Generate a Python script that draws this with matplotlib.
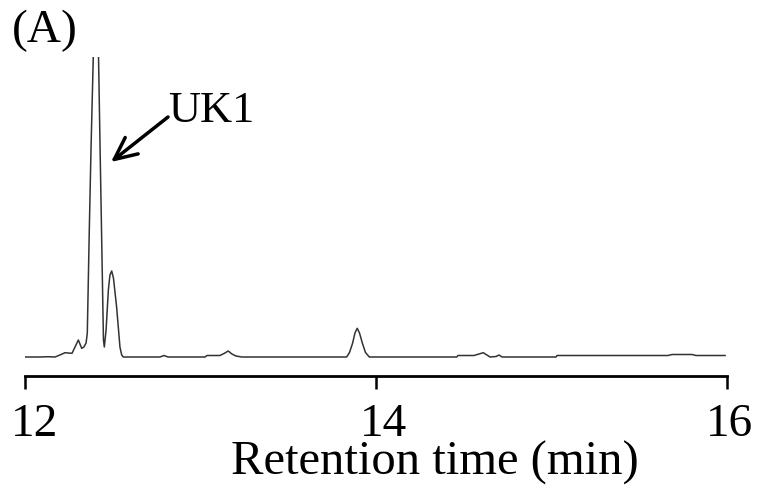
import matplotlib
matplotlib.use("Agg")
import matplotlib.pyplot as plt
from matplotlib.transforms import ScaledTranslation

plt.rcParams['font.family'] = ['Liberation Serif', 'DejaVu Serif']

# Chromatogram trace (retention time in min, signal in arbitrary units)
time_min = [12.000, 12.085, 12.131, 12.171, 12.199, 12.228, 12.245, 12.268, 12.285, 12.304,
            12.323, 12.336, 12.348, 12.355, 12.366, 12.376, 12.389, 12.403, 12.419, 12.427,
            12.439, 12.447, 12.452, 12.462, 12.475, 12.484, 12.494, 12.504, 12.522, 12.533,
            12.541, 12.551, 12.560, 12.769, 12.792, 12.815, 13.026, 13.037, 13.111, 13.134,
            13.158, 13.179, 13.202, 13.235, 13.833, 13.849, 13.867, 13.880, 13.893, 13.906,
            13.922, 13.940, 13.962, 14.460, 14.467, 14.558, 14.587, 14.611, 14.632, 14.650,
            14.684, 14.701, 14.718, 14.735, 15.026, 15.031, 15.664, 15.687, 15.801, 15.823,
            15.989]
signal = [0, 0, 0.3, 0, 2, 4.3, 4, 3.7, 10, 17,
          8.7, 10, 14, 24, 124, 207, 300, 457, 300, 217,
          97, 17, 10, 27, 67, 82, 86, 79, 50, 27,
          10, 2, 0, 0, 1.5, 0, 0, 1.5, 1.5, 3.5,
          6, 3, 1, 0, 0, 4.5, 14, 24, 28.7, 24,
          14, 4.5, 0, 0, 1.5, 1.5, 3, 4.3, 2, 0,
          0.5, 2, 0, 0, 0, 1.5, 1.5, 2.5, 2.5, 1.5,
          1.5]

tick_values = [12, 14, 16]
tick_labels = ["12", "14", "16"]
peak_label = "UK1"
panel_label = "(A)"
x_label = "Retention time (min)"

W, H = 766, 493
fig = plt.figure(figsize=(W / 100, H / 100), dpi=100)
ax = fig.add_axes([25 / W, 1 - 376 / H, 702 / W, 319 / H])

ax.plot(time_min, signal, color='#333333', lw=1.1, clip_on=True)
ax.set_xlim(12, 16)
ax.set_ylim(-19, 300)

for s in ['top', 'right', 'left']:
    ax.spines[s].set_visible(False)
ax.spines['bottom'].set_linewidth(2.0)
ax.set_yticks([])
ax.set_xticks(tick_values)
ax.set_xticklabels(tick_labels, fontsize=34)
ax.tick_params(axis='x', direction='out', length=9, width=1.8, pad=11)

offsets_px = [10, 8, 2]
for lab, off in zip(ax.get_xticklabels(), offsets_px):
    lab.set_transform(lab.get_transform() + ScaledTranslation(off / 100, 0, fig.dpi_scale_trans))

# arrow and label for UK1
ax.annotate('', xy=(12.490, 195), xytext=(12.815, 240),
            arrowprops=dict(arrowstyle='->,head_length=1.6,head_width=0.75',
                            mutation_scale=10, lw=2.5, color='black',
                            shrinkA=0, shrinkB=0))
ax.text(12.813, 235, peak_label, fontsize=32, ha='left', va='baseline')

fig.text(12 / W, 1 - 42 / H, panel_label, fontsize=34, ha='left', va='baseline')
fig.text(435 / W, 1 - 475 / H, x_label, fontsize=35, ha='center', va='baseline')

fig.savefig("out.png", dpi=100)
